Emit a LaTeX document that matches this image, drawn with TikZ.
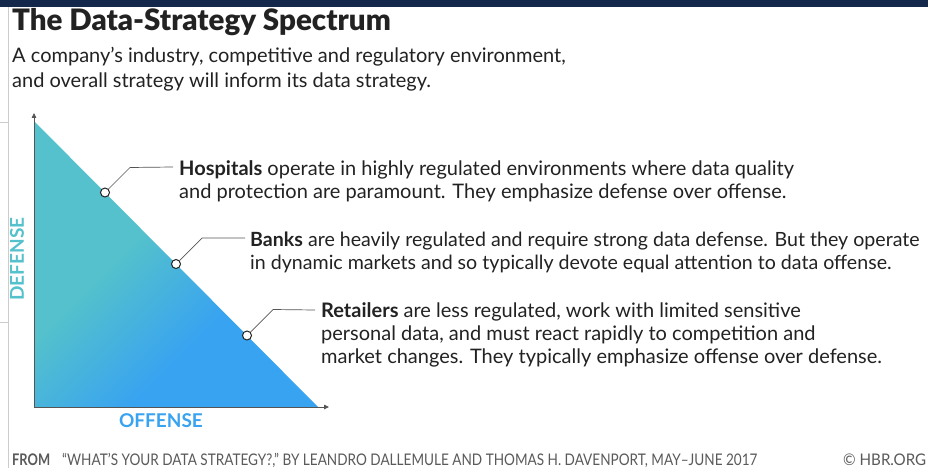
\documentclass[tikz,border=0pt]{standalone}
\usepackage{fontspec}
\setmainfont{Lato}
\newfontfamily\headfont{Lato Black}
\usetikzlibrary{calc,arrows.meta}
\definecolor{tealish}{HTML}{54C1CC}
\definecolor{blueish}{HTML}{38A3F0}
\definecolor{inkgray}{HTML}{222222}
\definecolor{axisgray}{HTML}{555555}
\definecolor{footgray}{HTML}{5A5A5A}
\definecolor{topband}{HTML}{14284B}
\pgfdeclareverticalshading{spectrum}{100bp}{color(0bp)=(blueish); color(38bp)=(blueish); color(58bp)=(tealish); color(100bp)=(tealish)}

\begin{document}
\begin{tikzpicture}[x=1pt,y=-1pt,>={Triangle[length=5pt,width=4.5pt]},
    dot/.style={circle,draw=inkgray,fill=white,line width=1pt,inner sep=0pt,minimum size=9pt},
    lead/.style={draw=axisgray,line width=0.7pt},
    blurb/.style={align=left,anchor=base west,inner sep=0pt,text=inkgray,font=\fontsize{20}{23}\selectfont},
    axislabel/.style={inner sep=0pt,font=\bfseries\fontsize{19}{19}\selectfont},
    foot/.style={anchor=base west,inner sep=0pt,text=footgray,font=\fontsize{16}{16}\selectfont}]
    \useasboundingbox (0,0) rectangle (928,468);
    \clip (0,0) rectangle (928,468);
    \fill[white] (0,0) rectangle (928,468);
    \fill[topband] (0,0) rectangle (928,7);
    \draw[black!20] (8,7) -- (8,468) (0,122) -- (8,122) (0,322) -- (8,322);

    % heading (multi-line nodes sit on their last baseline)
    \node[anchor=base west,inner sep=0pt,text=inkgray,font=\headfont\fontsize{29.5}{29.5}\selectfont] (title) at (12,31) {The Data-Strategy Spectrum};
    \node[blurb,font=\fontsize{20}{25}\selectfont] (intro) at (12,88) {A company’s industry, competitive and regulatory environment,\\and overall strategy will inform its data strategy.};

    % triangle and axes
    \coordinate (apex) at (34,121);
    \coordinate (O) at (34,407);
    \coordinate (foot) at (318,407);
    \coordinate (ytip) at (34,113);
    \coordinate (xtip) at (329,407);
    \shade[shading=spectrum,shading angle=45] (apex) -- (O) -- (foot) -- cycle;
    \draw[axisgray,line width=0.8pt,<->] (ytip) -- (O) -- (xtip);
    \node[axislabel,text=tealish,rotate=90] (def) at (17,259) {DEFENSE};
    \node[axislabel,text=blueish] (off) at (161,421) {OFFENSE};

    % points on the spectrum
    \node[dot] (hosp) at ($(apex)!0.25!(foot)$) {};
    \node[dot] (bank) at ($(apex)!0.5!(foot)$) {};
    \node[dot] (retail) at ($(apex)!0.75!(foot)$) {};

    \coordinate (hospk) at ($(hosp)+(25,-25)$);
    \coordinate (hospe) at (173,167);
    \coordinate (bankk) at ($(bank)+(26,-26)$);
    \coordinate (banke) at (245,238);
    \coordinate (retailk) at ($(retail)+(26,-26)$);
    \coordinate (retaile) at (315,310);

    \node[blurb] (hosptxt) at (179,198) {\textbf{Hospitals} operate in highly regulated environments where data quality\\and protection are paramount. They emphasize defense over offense.};
    \node[blurb,font=\fontsize{19.6}{23}\selectfont] (banktxt) at (250,269) {\textbf{Banks} are heavily regulated and require strong data defense. But they operate\\in dynamic markets and so typically devote equal attention to data offense.};
    \node[blurb] (retailtxt) at (321,363) {\textbf{Retailers} are less regulated, work with limited sensitive\\personal data, and must react rapidly to competition and\\market changes. They typically emphasize offense over defense.};

    \draw[lead] (hosp) -- (hospk) -- (hospe);
    \draw[lead] (bank) -- (bankk) -- (banke);
    \draw[lead] (retail) -- (retailk) -- (retaile);

    % source line
    \node[foot,font=\bfseries\fontsize{16}{16}\selectfont] (from) at (12,465) {\resizebox{38pt}{\height}{FROM}};
    \node[foot] (src) at (62,465) {\resizebox{695pt}{\height}{“WHAT’S YOUR DATA STRATEGY?,” BY LEANDRO DALLEMULE AND THOMAS H. DAVENPORT, MAY–JUNE 2017}};
    \node[foot] (hbr) at (843,465) {\resizebox{83pt}{\height}{© HBR.ORG}};
\end{tikzpicture}
\end{document}
